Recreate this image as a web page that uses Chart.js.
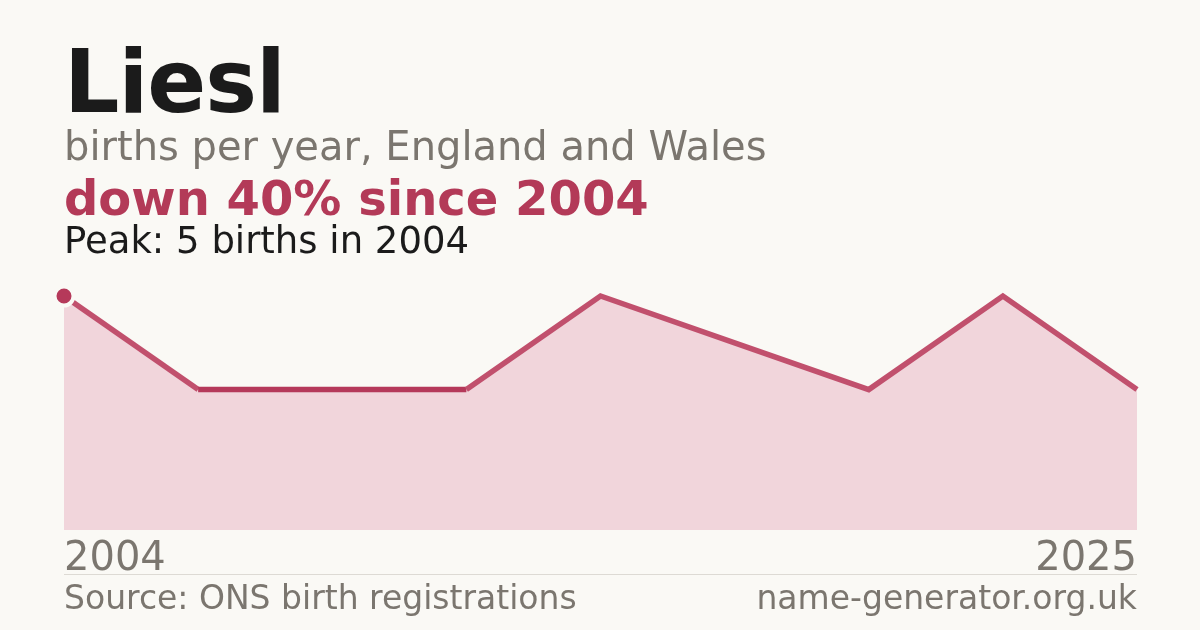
<!DOCTYPE html>
<html>
<head>
<meta charset="utf-8">
<script src="https://cdn.jsdelivr.net/npm/chart.js@4/dist/chart.umd.min.js"></script>
<style>
  html, body { margin: 0; padding: 0; background: #FAF9F5; }
  body { width: 1200px; height: 630px; position: relative; overflow: hidden; font-family: "DejaVu Sans", sans-serif; }
  #chart { position: absolute; left: 0; top: 0; width: 1200px; height: 630px; }
  .t { position: absolute; left: 64px; white-space: nowrap; margin: 0; line-height: 1; }
  #title { top: 39px; font-size: 87px; font-weight: bold; color: #1B1B1B; letter-spacing: -1px; }
  #sub { top: 126px; font-size: 40px; color: #7B766F; }
  #change { top: 174px; font-size: 48px; font-weight: bold; color: #B33A58; }
  #peak { top: 222px; font-size: 37px; color: #1B1B1B; }
  .yr { position: absolute; top: 536px; font-size: 40px; color: #7B766F; line-height: 1; }
  #rule { position: absolute; left: 64px; top: 574px; width: 1073px; height: 1px; background: #DDDAD4; }
  .foot { position: absolute; top: 581px; font-size: 33px; color: #7B766F; line-height: 1; white-space: nowrap; }
</style>
</head>
<body>
<canvas id="chart" width="1200" height="630"></canvas>
<p class="t" id="title">Liesl</p>
<p class="t" id="sub">births per year, England and Wales</p>
<p class="t" id="change">down 40% since 2004</p>
<p class="t" id="peak">Peak: 5 births in 2004</p>
<div class="yr" id="yrStart" style="left:64px"></div>
<div class="yr" id="yrEnd" style="right:63px"></div>
<div id="rule"></div>
<div class="foot" style="left:64px">Source: ONS birth registrations</div>
<div class="foot" style="right:63px">name-generator.org.uk</div>
<script>
var endYears = ['2004', '2025'];
var steps = ['0', '1', '2', '3', '4', '5', '6', '7', '8'];
var births = [5, 3, 3, 3, 5, 4, 3, 5, 3];
var yMax = 5;

document.getElementById('yrStart').textContent = endYears[0];
document.getElementById('yrEnd').textContent = endYears[1];

var ctx = document.getElementById('chart').getContext('2d');
var chart = new Chart(ctx, {
    type: 'line',
    data: {
        labels: steps,
        datasets: [{
            // line on top, first point marked
            data: births,
            borderColor: '#B5395A',
            borderWidth: 5.5,
            fill: false,
            tension: 0,
            clip: false,
            // sloped parts look a bit lighter in the original
            segment: {
                borderColor: function(c) {
                    return c.p0.parsed.y === c.p1.parsed.y ? '#B5395A' : '#C1506D';
                }
            },
            pointRadius: births.map(function(v, i) { return i === 0 ? 9.5 : 0; }),
            pointBackgroundColor: '#B5395A',
            pointBorderColor: '#FAF9F5',
            pointBorderWidth: 4,
            pointHoverRadius: 0
        }, {
            // area only
            data: births,
            borderWidth: 0,
            backgroundColor: '#F1D5DB',
            fill: 'origin',
            tension: 0,
            pointRadius: 0
        }]
    },
    options: {
        responsive: false,
        animation: false,
        devicePixelRatio: 1,
        layout: { padding: { left: 64, right: 63, top: 296, bottom: 100 } },
        scales: {
            x: { display: false, offset: false },
            y: { display: false, min: 0, max: yMax }
        },
        plugins: { legend: { display: false }, tooltip: { enabled: false } }
    }
});
</script>
</body>
</html>
